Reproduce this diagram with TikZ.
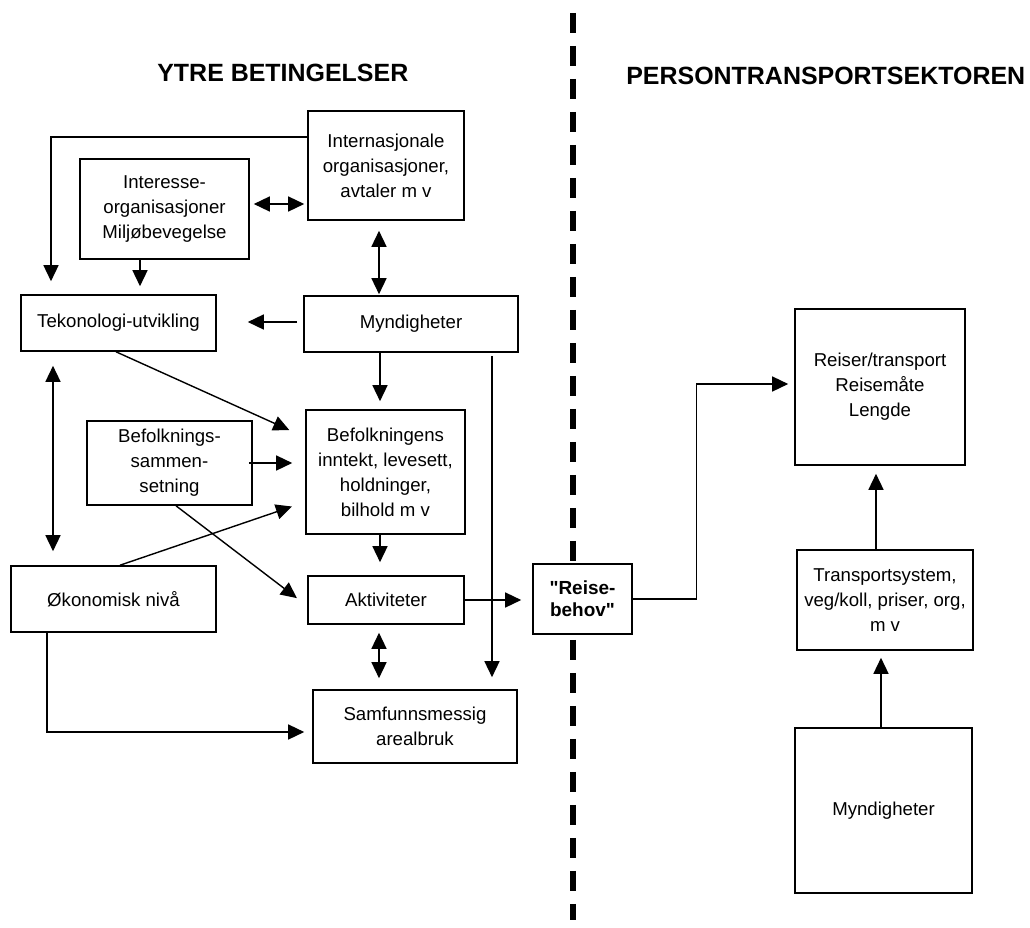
\documentclass[tikz,border=0pt]{standalone}
\usepackage{fontspec}
\setmainfont{Liberation Sans}
\usetikzlibrary{arrows.meta,calc}

\begin{document}
\begin{tikzpicture}[
	txt/.style={font=\fontsize{10.6}{14.2}\selectfont},
	box/.style={draw, line width=0.9pt, fill=white, align=center, inner sep=0pt, txt},
	title/.style={anchor=base west, inner sep=0pt, font=\fontsize{14.2}{17}\selectfont\bfseries},
	arr/.style={line width=0.8pt, -{Triangle[length=0.32cm, width=0.3cm]}},
	darr/.style={line width=0.8pt, {Triangle[length=0.32cm, width=0.3cm]}-{Triangle[length=0.32cm, width=0.3cm]}},
	divider/.style={line width=3.4pt, dash pattern=on 0.4cm off 0.26cm}
	]
		\useasboundingbox (0,0) rectangle (20.6,-18.56);

		\coordinate (divtop) at (11.46,-0.26);
		\coordinate (divbot) at (11.46,-18.4);
		\draw[divider] (divtop) -- (divbot);

		\node[title] (ytre) at (3.14,-1.62) {YTRE BETINGELSER};
		\node[title] (person) at (12.52,-1.70) {PERSONTRANSPORTSEKTOREN};

		\node[box, minimum width=3.12cm, minimum height=2.18cm] (intl) at (7.72,-3.31) {Internasjonale\\ organisasjoner,\\ avtaler m v};
		\node[box, minimum width=3.38cm, minimum height=2.0cm] (inter) at (3.29,-4.18) {Interesse-\\ organisasjoner\\ Miljøbevegelse};
		\node[box, minimum width=3.9cm, minimum height=1.12cm] (tek) at (2.37,-6.46) {Tekonologi-utvikling};
		\node[box, minimum width=4.28cm, minimum height=1.12cm] (mynd) at (8.22,-6.48) {Myndigheter};
		\node[box, minimum width=3.18cm, minimum height=2.48cm] (befk) at (7.71,-9.44) {Befolkningens\\ inntekt, levesett,\\ holdninger,\\ bilhold m v};
		\node[box, minimum width=3.3cm, minimum height=1.68cm] (befs) at (3.39,-9.26) {Befolknings-\\ sammen-\\ setning};
		\node[box, minimum width=4.1cm, minimum height=1.32cm] (okon) at (2.27,-11.98) {Økonomisk nivå};
		\node[box, minimum width=3.12cm, minimum height=0.96cm] (akt) at (7.72,-12.0) {Aktiviteter};
		\node[box, minimum width=4.08cm, minimum height=1.46cm] (areal) at (8.30,-14.53) {Samfunnsmessig\\ arealbruk};
		\node[box, minimum width=1.98cm, minimum height=1.4cm, font=\fontsize{10.8}{12.5}\selectfont\bfseries] (reise) at (11.65,-11.98) {\textquotedbl Reise-\\ behov\textquotedbl};

		\node[box, minimum width=3.4cm, minimum height=3.12cm] (reiser) at (17.6,-7.74) {Reiser/transport\\ Reisemåte\\ Lengde};
		\node[box, minimum width=3.52cm, minimum height=2.0cm] (tsys) at (17.7,-12.0) {Transportsystem,\\ veg/koll, priser, org,\\ m v};
		\node[box, minimum width=3.54cm, minimum height=3.3cm] (mynd2) at (17.67,-16.21) {Myndigheter};

		\draw[arr] ([yshift=0.57cm]intl.west) -| ([xshift=-1.35cm, yshift=0.26cm]tek.north);
		\draw[darr, shorten <=0.08cm, shorten >=0.06cm] ([yshift=0.1cm]inter.east) -- ([yshift=0.1cm]inter.east -| intl.west);
		\draw[arr, shorten >=0.16cm] ([xshift=-0.49cm]inter.south) -- ([xshift=-0.49cm]inter.south |- tek.north);
		\draw[darr, shorten <=0.2cm, shorten >=0.02cm] ([xshift=-0.14cm]intl.south) -- ([xshift=-0.14cm]intl.south |- mynd.north);
		\draw[arr, shorten <=0.12cm, shorten >=0.62cm] ([yshift=0.04cm]mynd.west) -- ([yshift=0.04cm]mynd.west -| tek.east);
		\draw[arr, shorten >=0.35cm] ([xshift=-0.05cm]tek.south) -- ([yshift=-0.56cm]befk.north west);
		\draw[arr, shorten >=0.16cm] ([xshift=-0.62cm]mynd.south) -- ([xshift=-0.62cm]mynd.south |- befk.north);
		\draw[arr, shorten <=-0.08cm, shorten >=0.26cm] (befs.east) -- (befs.east -| befk.west);
		\draw[arr, shorten >=0.26cm] ([xshift=0.13cm]befs.south) -- ([yshift=-0.12cm]akt.west);
		\draw[arr, shorten >=0.28cm] ([xshift=0.13cm]okon.north) -- ([yshift=-0.6cm]befk.west);
		\draw[darr, shorten <=0.28cm, shorten >=0.28cm] ([xshift=-1.31cm]tek.south) -- ([xshift=-1.31cm]tek.south |- okon.north);
		\draw[arr, shorten >=0.26cm] ([xshift=-0.11cm]befk.south) -- ([xshift=-0.11cm]befk.south |- akt.north);
		\draw[arr, shorten >=0.22cm] (akt.east) -- (akt.east -| reise.west);
		\draw[darr, shorten <=0.16cm, shorten >=0.22cm] ([xshift=-0.14cm]akt.south) -- ([xshift=-0.14cm]akt.south |- areal.north);
		\draw[arr, shorten <=0.06cm, shorten >=0.24cm] ([xshift=1.62cm]mynd.south) -- ([xshift=1.62cm]mynd.south |- areal.north);
		\draw[arr, shorten >=0.16cm] ([xshift=-1.33cm]okon.south) |- ([yshift=-0.11cm]areal.west);

		\draw[arr, shorten >=0.12cm] (reise.east) -- ++(1.28,0) |- ([yshift=0.06cm]reiser.west);
		\draw[arr, shorten >=0.16cm] ([xshift=-0.18cm]tsys.north) -- ([xshift=-0.18cm]tsys.north |- reiser.south);
		\draw[arr, shorten >=0.14cm] ([xshift=-0.05cm]mynd2.north) -- ([xshift=-0.05cm]mynd2.north |- tsys.south);

	\end{tikzpicture}
\end{document}
